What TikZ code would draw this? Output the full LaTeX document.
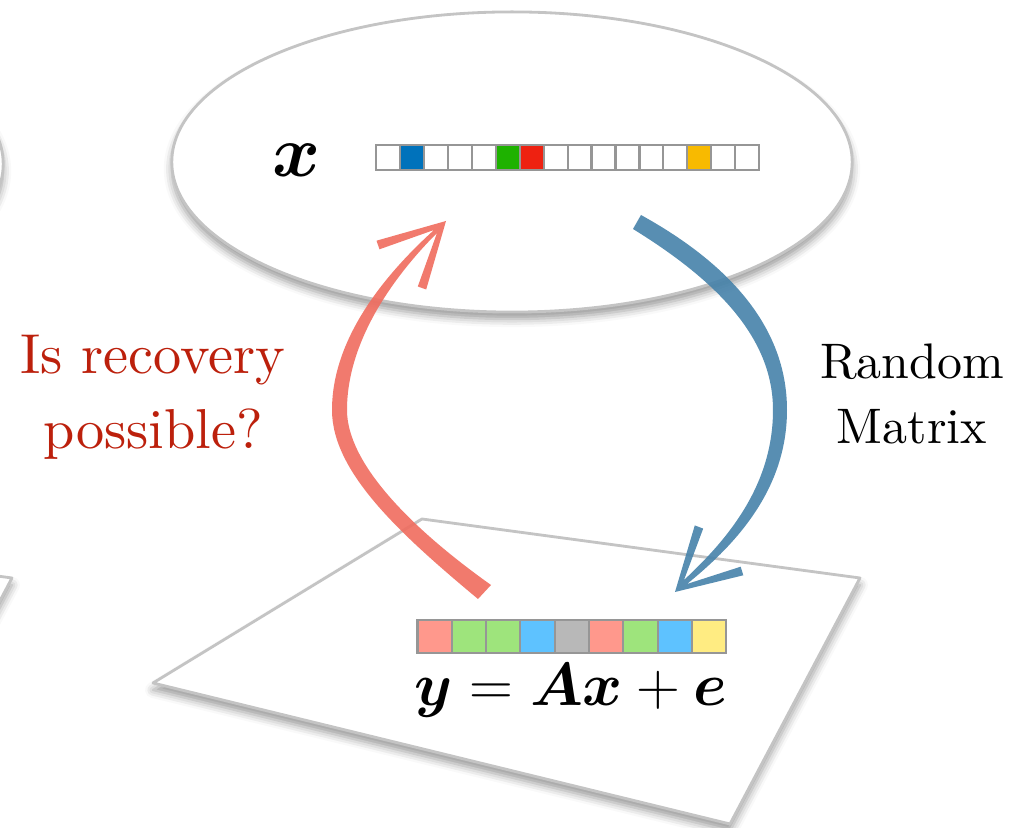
\documentclass[tikz,border=0pt]{standalone}
\usepackage{bm}
\usepackage{fontspec}
\newfontfamily\tenrm{lmroman10-regular.otf}
\usetikzlibrary{shapes.geometric,shadows.blur}
\definecolor{framegray}{RGB}{196,196,196}
\definecolor{cellgray}{RGB}{150,150,150}
\definecolor{askred}{RGB}{188,32,12}
\definecolor{backred}{RGB}{240,108,94}
\definecolor{forthblue}{RGB}{70,130,170}
\definecolor{xblue}{RGB}{0,114,187}
\definecolor{xgreen}{RGB}{30,178,0}
\definecolor{xred}{RGB}{238,33,17}
\definecolor{xorange}{RGB}{248,186,0}
\definecolor{ysalmon}{RGB}{255,152,140}
\definecolor{ygreen}{RGB}{158,228,124}
\definecolor{yblue}{RGB}{94,194,255}
\definecolor{ygray}{RGB}{184,184,184}
\definecolor{yyellow}{RGB}{255,236,130}
\tikzset{
  sheet/.style={draw=framegray, line width=0.8pt, fill=white, line join=round,
    blur shadow={shadow xshift=0pt, shadow yshift=-0.07cm, shadow blur radius=0.08cm, shadow opacity=40}},
  cell/.style={draw=cellgray, line width=0.6pt},
  curvearrow/.style={fill opacity=0.9},
  asktext/.style={text=askred, align=center, font=\tenrm\fontsize{16}{21.3}\selectfont},
  sidetext/.style={align=center, font=\tenrm\fontsize{14.2}{18.5}\selectfont},
}
\begin{document}
\begin{tikzpicture}[x=0.01cm,y=-0.01cm]
  \useasboundingbox (0,0) rectangle (1017,828);
  \draw[sheet] (153,683) -- (422,519) -- (860,578) -- (730,824) -- cycle;
  \draw[sheet, shift={(-848,0)}] (153,683) -- (422,519) -- (860,578) -- (730,824) -- cycle;
  \node[sheet, ellipse, minimum width=6.8cm, minimum height=3cm, inner sep=0pt] (signal) at (512,162) {};
  \node[sheet, ellipse, minimum width=6.8cm, minimum height=3cm, inner sep=0pt] (prevsignal) at (-337,164) {};
  \node[font=\fontsize{22.5}{26}\selectfont] (xlab) at (297,160) {$\bm{x}$};
  \foreach \c [count=\i] in {white,xblue,white,white,white,xgreen,xred,white,white,white,white,white,white,xorange,white,white}
    \draw[cell, fill=\c] ({376+(\i-1)*23.95},145) rectangle ++(23.95,25);
  \foreach \c [count=\i] in {ysalmon,ygreen,ygreen,yblue,ygray,ysalmon,ygreen,yblue,yyellow}
    \draw[cell, fill=\c] ({417.5+(\i-1)*34.3},620) rectangle ++(34.3,33);
  \node[anchor=base, font=\fontsize{17.3}{20}\selectfont] (eq) at (571,706) {$\bm{y}=\bm{A}\bm{x}+\bm{e}$};
  \coordinate (redtip) at (446,221);
  \coordinate (bluetip) at (675,592);
  \fill[backred, curvearrow] (478,599) .. controls (400,534) and (332,472) .. (332,410)
    .. controls (332,335) and (390,270) .. (434,230)
    -- (379.5,249.3) -- (376.5,240.7) -- (redtip) -- (426.2,289.5) -- (417.8,286.5) -- (437,233)
    .. controls (398,272) and (347,338) .. (347,410)
    .. controls (347,462) and (408,526) .. (491,585) -- cycle;
  \fill[forthblue, curvearrow] (641,215) .. controls (726,262) and (787,325) .. (787,410)
    .. controls (787,490) and (735,545) .. (687,584)
    -- (740.7,566.7) -- (743.3,575.3) -- (bluetip) -- (694.8,525.4) -- (703.2,528.6) -- (684,580)
    .. controls (727,540) and (773,486) .. (773,410)
    .. controls (773,336) and (714,279) .. (633,229) -- cycle;
  \node[asktext] (ask) at (153,397) {Is recovery\\possible?};
  \node[sidetext] (rand) at (912,394) {Random\\Matrix};
\end{tikzpicture}
\end{document}
